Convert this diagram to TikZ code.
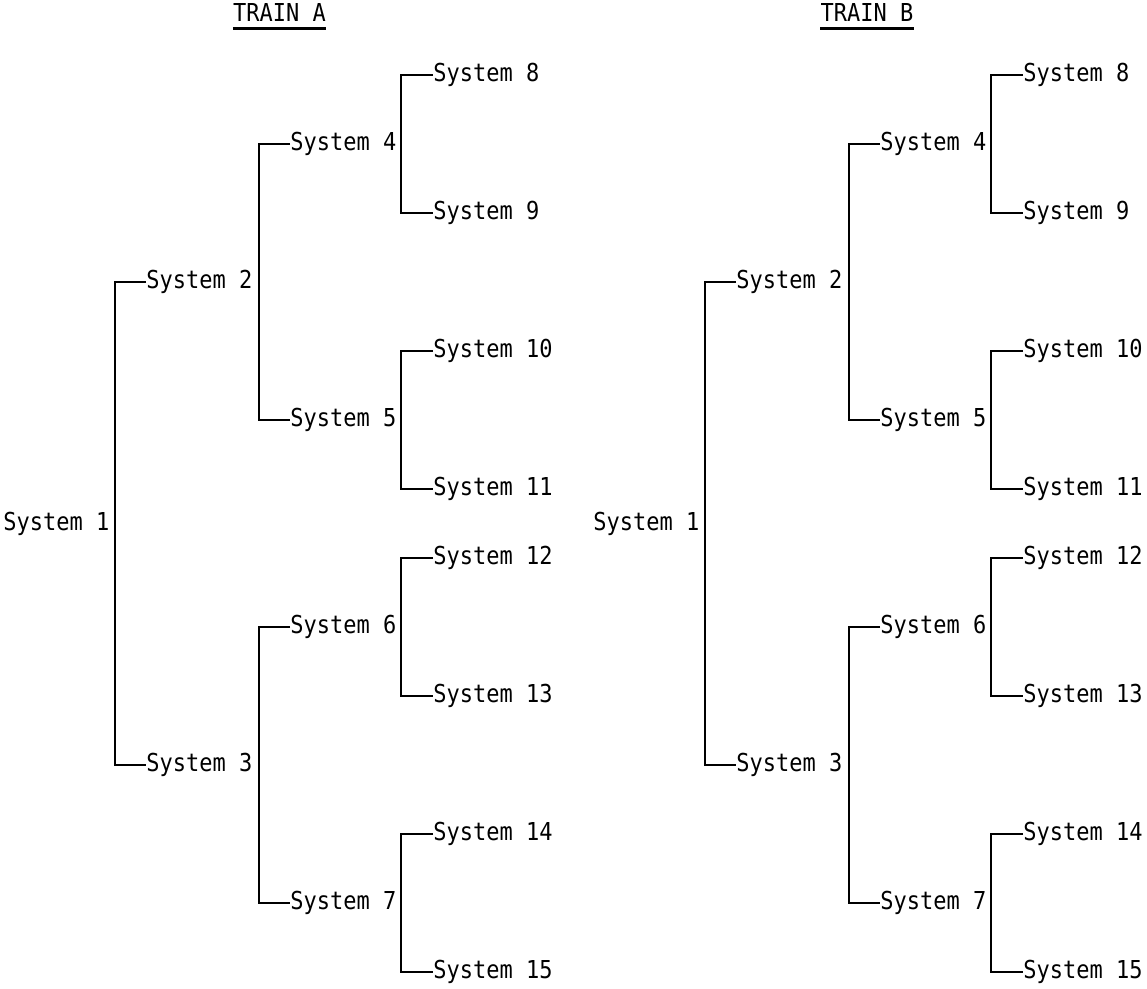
\documentclass[tikz,border=0pt]{standalone}
\usepackage{fontspec}
\newfontfamily\diagfont[FakeStretch=0.89]{DejaVu Sans Mono}
\begin{document}
\begin{tikzpicture}[x=0.5pt,y=-0.5pt,
  sys/.style={anchor=west,inner sep=0pt,font=\diagfont\fontsize{12.35}{14}\selectfont},
  titl/.style={anchor=base,inner sep=0pt,font=\diagfont\fontsize{12.35}{14}\selectfont},
  link/.style={line width=1.1pt,black},
  uline/.style={line width=1.4pt,black}]
\path[use as bounding box] (0,0) rectangle (1147,989);
\foreach \t/\ox/\cx in {A/0/279.5,B/590/867}{
  \node[titl] (T\t) at (\cx,22) {TRAIN \t};
  \draw[uline] ([yshift=-3.2pt]T\t.base west) -- ([yshift=-3.2pt]T\t.base east);
  \node[sys] (S\t1) at (\ox+3,523.5) {System 1};
  \node[sys] (S\t2) at (\ox+146,282) {System 2};
  \node[sys] (S\t3) at (\ox+146,765) {System 3};
  \node[sys] (S\t4) at (\ox+290,144) {System 4};
  \node[sys] (S\t5) at (\ox+290,420) {System 5};
  \node[sys] (S\t6) at (\ox+290,627) {System 6};
  \node[sys] (S\t7) at (\ox+290,903) {System 7};
  \node[sys] (S\t8) at (\ox+433,75) {System 8};
  \node[sys] (S\t9) at (\ox+433,213) {System 9};
  \node[sys] (S\t10) at (\ox+433,351) {System 10};
  \node[sys] (S\t11) at (\ox+433,489) {System 11};
  \node[sys] (S\t12) at (\ox+433,558) {System 12};
  \node[sys] (S\t13) at (\ox+433,696) {System 13};
  \node[sys] (S\t14) at (\ox+433,834) {System 14};
  \node[sys] (S\t15) at (\ox+433,972) {System 15};
  \coordinate (C\t1) at (\ox+115,523.5);
  \coordinate (D\t1) at (\ox+259,282);
  \coordinate (D\t2) at (\ox+259,765);
  \coordinate (E\t1) at (\ox+401,144);
  \coordinate (E\t2) at (\ox+401,420);
  \coordinate (E\t3) at (\ox+401,627);
  \coordinate (E\t4) at (\ox+401,903);
  \draw[link] (S\t2.west) -| (C\t1) |- (S\t3.west);
  \draw[link] (S\t4.west) -| (D\t1) |- (S\t5.west);
  \draw[link] (S\t6.west) -| (D\t2) |- (S\t7.west);
  \draw[link] (S\t8.west) -| (E\t1) |- (S\t9.west);
  \draw[link] (S\t10.west) -| (E\t2) |- (S\t11.west);
  \draw[link] (S\t12.west) -| (E\t3) |- (S\t13.west);
  \draw[link] (S\t14.west) -| (E\t4) |- (S\t15.west);
}
\end{tikzpicture}
\end{document}
